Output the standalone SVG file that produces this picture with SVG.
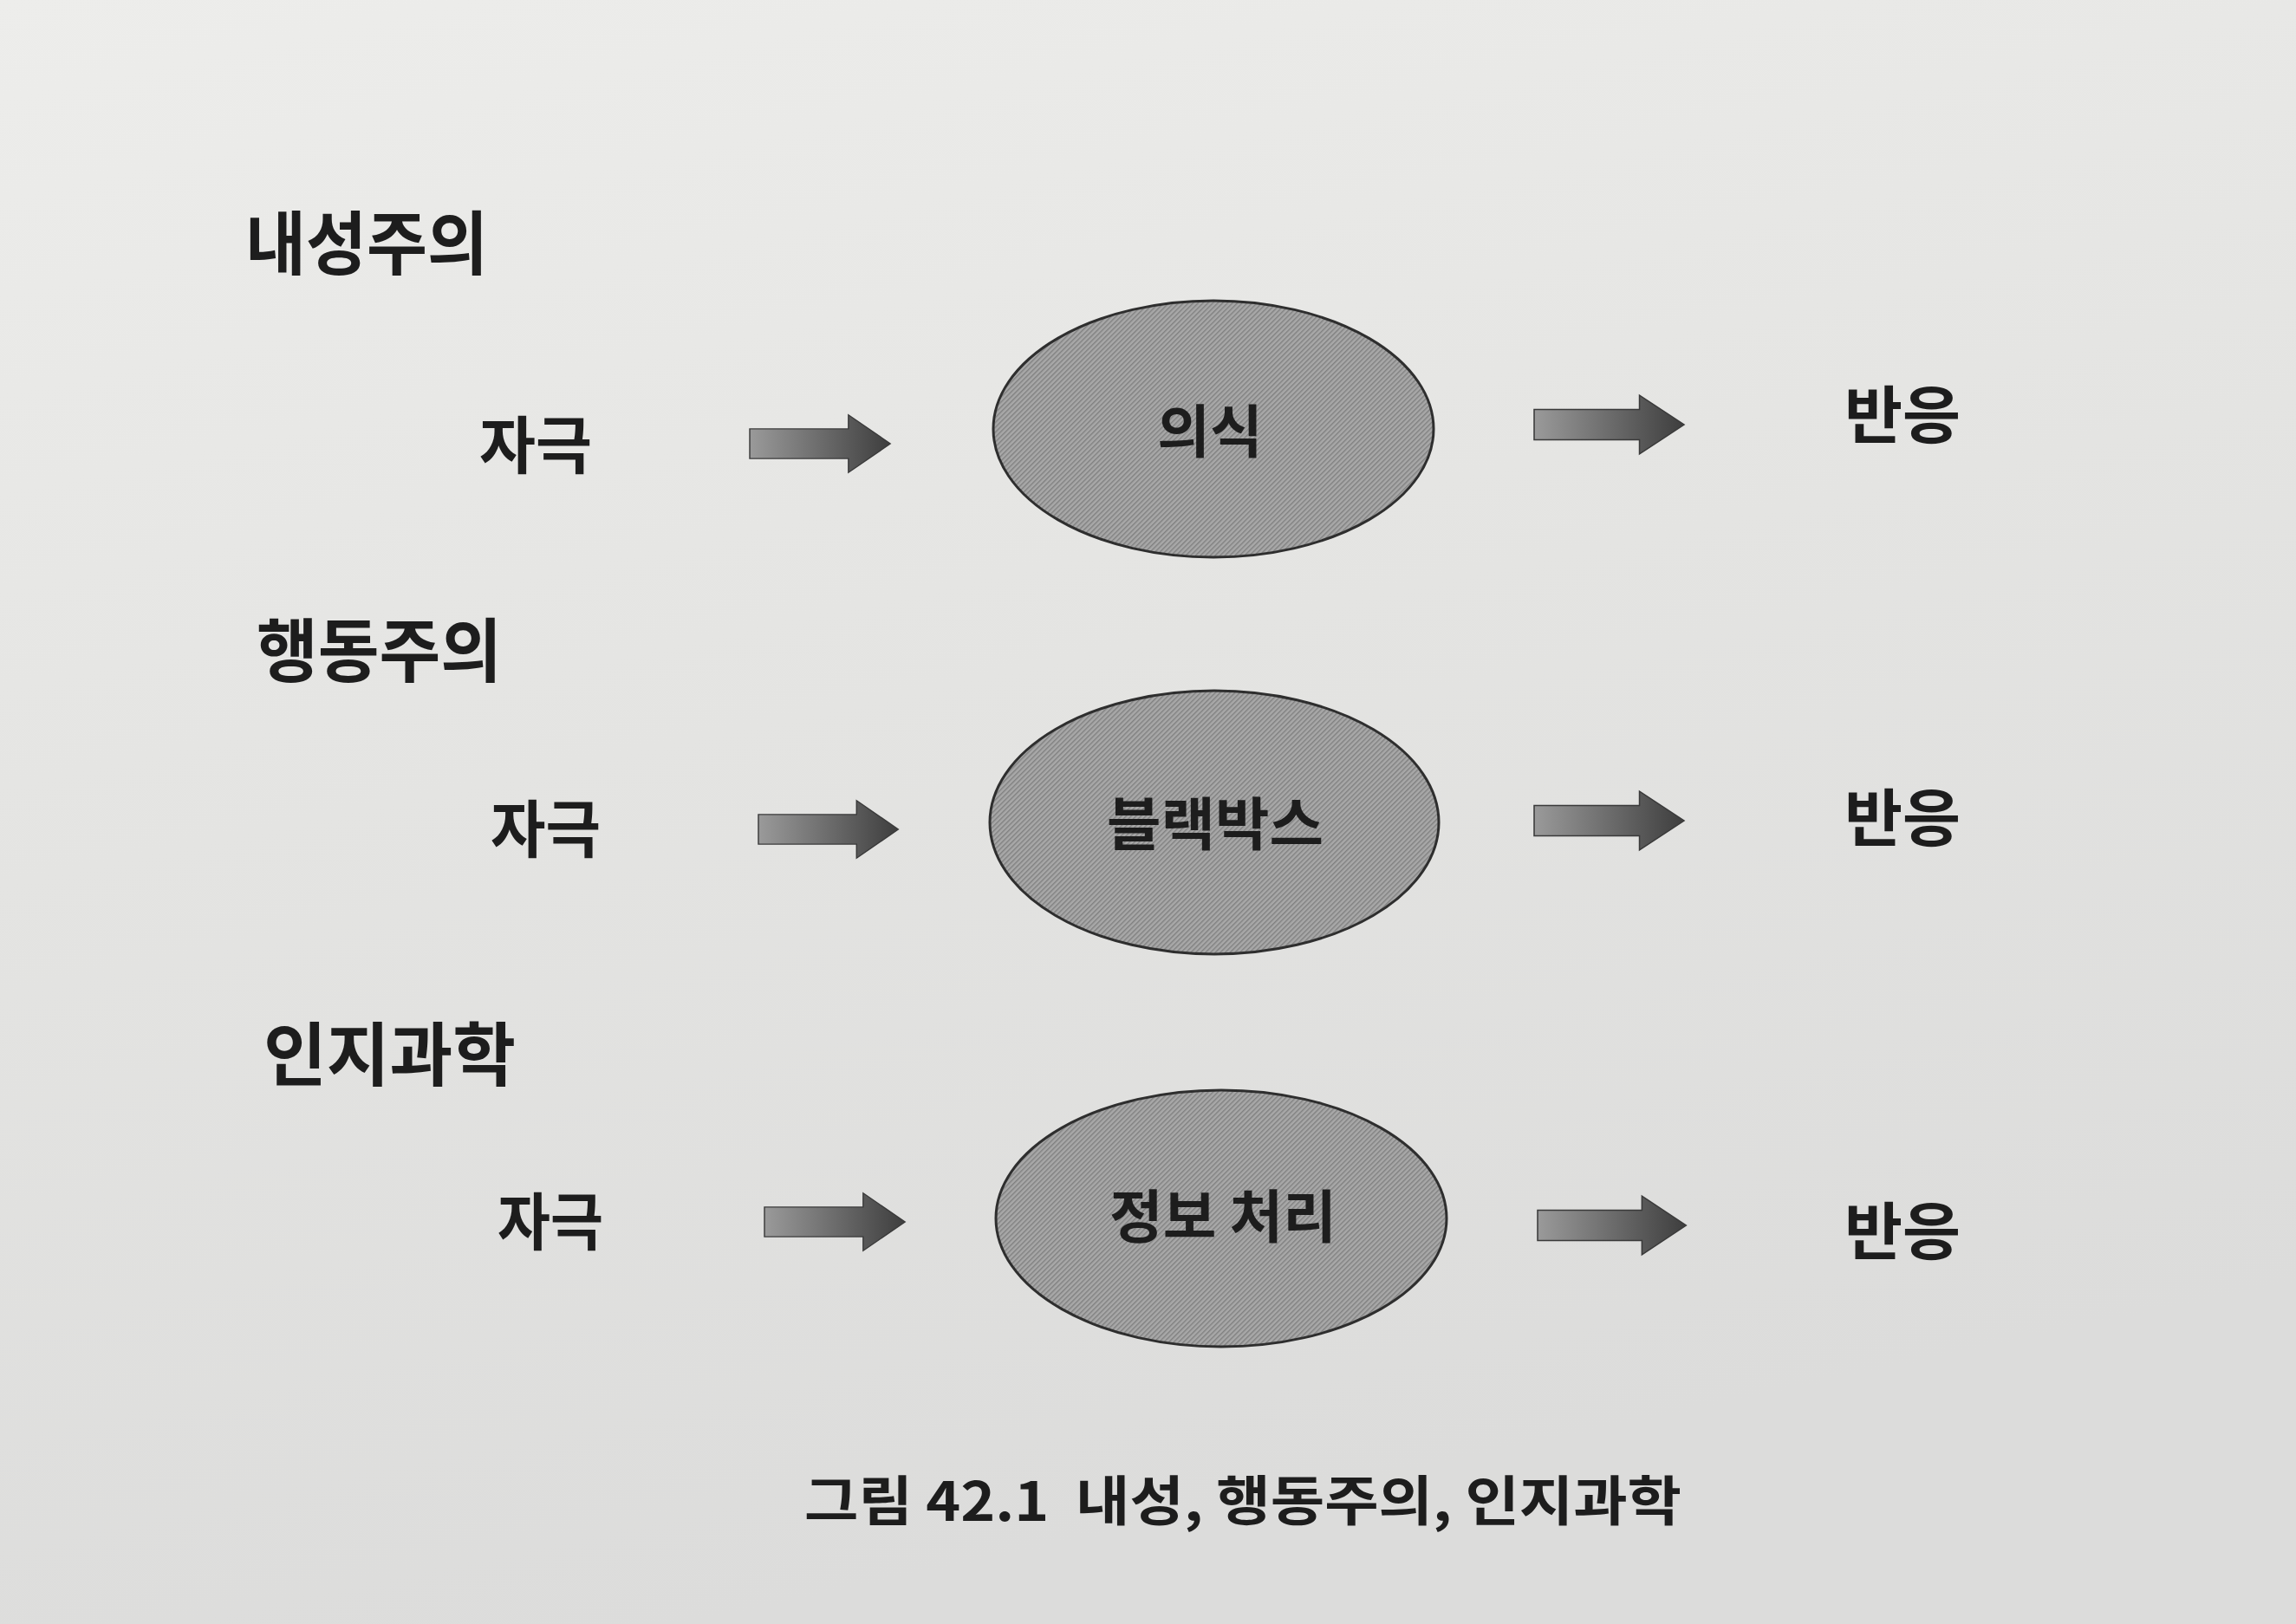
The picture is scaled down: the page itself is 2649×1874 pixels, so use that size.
<svg xmlns="http://www.w3.org/2000/svg" width="2649" height="1874" viewBox="0 0 2649 1874">
  <defs>
    <linearGradient id="paper" x1="0" y1="0" x2="0.3" y2="1">
      <stop offset="0" stop-color="#ededeb"/>
      <stop offset="0.5" stop-color="#e4e4e2"/>
      <stop offset="1" stop-color="#dcdcdb"/>
    </linearGradient>
    <linearGradient id="arrowFill" x1="0" y1="0" x2="1" y2="0">
      <stop offset="0" stop-color="#9a9a9a"/>
      <stop offset="1" stop-color="#3e3e3e"/>
    </linearGradient>
    <pattern id="hatch" width="4" height="4" patternUnits="userSpaceOnUse" patternTransform="rotate(45)">
      <rect width="4" height="4" fill="#a8a8a8"/>
      <rect width="1.4" height="4" fill="#808080"/>
    </pattern>
    <path id="arrowShape" d="M0,-18 L118,-18 L118,-35 L168,0 L118,35 L118,18 L0,18 Z"/>
  </defs>
  <style>
    .lbl { font-family: "Noto Sans CJK KR", "Noto Sans", sans-serif; font-weight: 700; fill: #1d1d1d; }
    .title { font-size: 80px; }
    .side { font-size: 72px; }
    .inner { font-size: 66px; text-anchor: middle; }
    .cap { font-size: 62px; white-space: pre; }
    .node { fill: url(#hatch); stroke: #2e2e2e; stroke-width: 3; }
    .arrow { fill: url(#arrowFill); stroke: #3a3a3a; stroke-width: 1.5; }
  </style>

  <rect x="0" y="0" width="2649" height="1874" fill="url(#paper)"/>

  <!-- Section titles -->
  <g id="title-introspection"><text class="lbl title" x="283" y="310" textLength="280" lengthAdjust="spacingAndGlyphs">내성주의</text></g>
  <g id="title-behaviorism"><text class="lbl title" x="296" y="780" textLength="283" lengthAdjust="spacingAndGlyphs">행동주의</text></g>
  <g id="title-cognitive"><text class="lbl title" x="304" y="1246" textLength="291" lengthAdjust="spacingAndGlyphs">인지과학</text></g>

  <!-- Row 1 -->
  <g id="stimulus-1"><text class="lbl side" x="553" y="540" textLength="130" lengthAdjust="spacingAndGlyphs">자극</text></g>
  <g id="node-consciousness">
    <ellipse class="node" cx="1400" cy="495" rx="254" ry="148"/>
    <text class="lbl inner" x="1396" y="522">의식</text>
  </g>
  <g id="response-1"><text class="lbl side" x="2128" y="505" textLength="134" lengthAdjust="spacingAndGlyphs">반응</text></g>

  <!-- Row 2 -->
  <g id="stimulus-2"><text class="lbl side" x="566" y="983" textLength="127" lengthAdjust="spacingAndGlyphs">자극</text></g>
  <g id="node-blackbox">
    <ellipse class="node" cx="1401" cy="949" rx="259" ry="152"/>
    <text class="lbl inner" x="1402" y="975" textLength="250" lengthAdjust="spacingAndGlyphs">블랙박스</text>
  </g>
  <g id="response-2"><text class="lbl side" x="2128" y="970" textLength="134" lengthAdjust="spacingAndGlyphs">반응</text></g>

  <!-- Row 3 -->
  <g id="stimulus-3"><text class="lbl side" x="574" y="1436" textLength="122" lengthAdjust="spacingAndGlyphs">자극</text></g>
  <g id="node-info">
    <ellipse class="node" cx="1409" cy="1406" rx="260" ry="148"/>
    <text class="lbl inner" x="1411" y="1428" textLength="262" lengthAdjust="spacingAndGlyphs">정보 처리</text>
  </g>
  <g id="response-3"><text class="lbl side" x="2128" y="1447" textLength="134" lengthAdjust="spacingAndGlyphs">반응</text></g>

  <!-- Connectors -->
  <g id="connectors">
    <use href="#arrowShape" class="arrow" transform="translate(865,512) scale(0.965,0.95)"/>
    <use href="#arrowShape" class="arrow" transform="translate(1770,490) scale(1.03,0.97)"/>
    <use href="#arrowShape" class="arrow" transform="translate(875,957) scale(0.96,0.95)"/>
    <use href="#arrowShape" class="arrow" transform="translate(1770,947) scale(1.03,0.97)"/>
    <use href="#arrowShape" class="arrow" transform="translate(882,1410) scale(0.965,0.95)"/>
    <use href="#arrowShape" class="arrow" transform="translate(1774,1414) scale(1.02,0.97)"/>
  </g>

  <!-- Caption -->
  <g id="caption"><text class="lbl cap" x="928" y="1755" textLength="1012" lengthAdjust="spacingAndGlyphs">그림 42.1  내성, 행동주의, 인지과학</text></g>
</svg>
